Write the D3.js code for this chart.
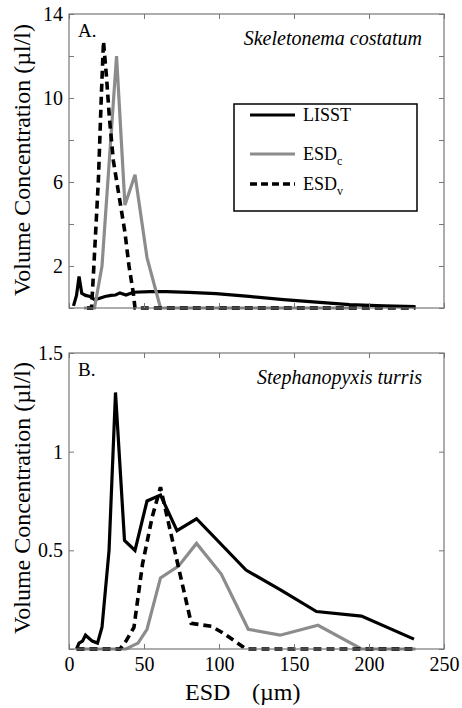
<!DOCTYPE html>
<html>
<head>
<meta charset="utf-8">
<style>
body { margin: 0; background: #fff; }
.frame { fill: none; stroke: #777; stroke-width: 1.2; }
.axis path { display: none; }
.axis line { stroke: #777; }
</style>
</head>
<body>
<div id="chart"></div>
<script src="https://cdn.jsdelivr.net/npm/d3@7"></script>
<script>
// ESD (um) vs volume concentration (ul/l)
var xTicks = [0, 50, 100, 150, 200, 250];

var aTicks = [0, 2, 4, 6, 8, 10, 12, 14];
var aLabels = [2, 6, 10, 14];
var aLisst = [[3, 0.1], [5, 0.6], [6.7, 1.5], [8.5, 0.7], [11, 0.6], [14, 0.55], [17, 0.4], [20, 0.45],
    [24, 0.55], [28, 0.6], [31, 0.62], [34, 0.72], [38, 0.62], [43, 0.75], [54, 0.78], [65, 0.78],
    [80, 0.74], [98, 0.68], [120, 0.55], [143, 0.4], [165, 0.28], [187, 0.16], [210, 0.1], [231, 0.07]];
var aEsdc = [[10, 0], [17, 0], [22, 2], [31.7, 12], [37.3, 4.9], [44, 6.35], [52, 2.4], [61, 0], [192, 0]];
var aEsdv = [[12, 0], [15, 0], [16.2, 1.5], [19.6, 6.1], [21.5, 10], [23, 12.7], [25, 11], [27, 9],
    [29.6, 7], [33, 5.5], [37.3, 3.6], [40, 2], [42.9, 0.7], [44, 0], [231, 0]];

var bTicks = [0, 0.5, 1, 1.5];
var bLabels = [0.5, 1, 1.5];
var bLisst = [[5, 0], [6.7, 0.03], [9, 0.04], [11, 0.07], [15.5, 0.04], [19, 0.03], [22, 0.11],
    [26.7, 0.5], [31, 1.3], [37, 0.55], [44, 0.5], [52, 0.75], [61, 0.78], [72, 0.6], [85, 0.66],
    [118, 0.4], [141, 0.3], [165, 0.19], [195, 0.167], [230, 0.05]];
var bEsdc = [[5, 0], [38, 0], [46, 0.03], [52, 0.1], [61, 0.36], [73, 0.42], [85, 0.535],
    [101.5, 0.38], [119.5, 0.1], [140.7, 0.07], [166, 0.12], [195, 0], [231, 0]];
var bEsdv = [[5, 0], [34, 0], [38, 0.04], [43.3, 0.11], [49, 0.43], [55.5, 0.67], [61, 0.82],
    [66, 0.65], [74, 0.38], [81.5, 0.13], [95, 0.115], [103, 0.08], [118, 0], [231, 0]];

var W = 462, H = 708;
var left = 69, right = 444;
var serif = '"Liberation Serif", "Times New Roman", Times, serif';

var svg = d3.select('#chart').append('svg')
    .attr('width', W).attr('height', H)
    .attr('font-family', serif);

var x = d3.scaleLinear().domain([0, 250]).range([left, right]);

var styles = {
    lisst: {stroke: '#000', width: 3.2, dash: null, legendDash: null},
    esdc: {stroke: '#8c8c8c', width: 3.2, dash: null, legendDash: null},
    esdv: {stroke: '#000', width: 3.6, dash: '8,5', legendDash: '7,4'}
};

function panel(o) {
    var y = d3.scaleLinear().domain(o.domain).range([o.bottom, o.top]);
    var g = svg.append('g');
    var line = d3.line().x(d => x(d[0])).y(d => y(d[1]));

    [['lisst', o.lisst], ['esdc', o.esdc], ['esdv', o.esdv]].forEach(function (s) {
        var st = styles[s[0]];
        g.append('path').datum(s[1])
            .attr('d', line)
            .attr('fill', 'none')
            .attr('stroke', st.stroke)
            .attr('stroke-width', st.width)
            .attr('stroke-dasharray', st.dash);
    });

    g.append('g').attr('class', 'axis')
        .attr('transform', 'translate(' + left + ',0)')
        .call(d3.axisLeft(y).tickValues(o.ticks).tickSize(-5).tickPadding(6)
            .tickFormat(d => o.labels.indexOf(d) >= 0 ? d : ''));
    g.append('g').attr('class', 'axis')
        .attr('transform', 'translate(' + right + ',0)')
        .call(d3.axisRight(y).tickValues(o.ticks).tickSize(-5).tickFormat(''));
    g.append('g').attr('class', 'axis')
        .attr('transform', 'translate(0,' + o.bottom + ')')
        .call(d3.axisBottom(x).tickValues(xTicks).tickSize(-5).tickPadding(8)
            .tickFormat(o.xlabels ? d => d : ''));
    g.append('g').attr('class', 'axis')
        .attr('transform', 'translate(0,' + o.top + ')')
        .call(d3.axisTop(x).tickValues(xTicks).tickSize(-5).tickFormat(''));

    g.selectAll('.axis').attr('font-family', serif).attr('font-size', 20);
    g.selectAll('.axis text').attr('fill', '#000');

    g.append('rect').attr('class', 'frame')
        .attr('x', left).attr('y', o.top)
        .attr('width', right - left).attr('height', o.bottom - o.top);

    g.append('text').attr('x', 78).attr('y', o.top + 23)
        .attr('font-size', 19).text(o.tag);
    g.append('text').attr('x', 422).attr('y', o.top + 31)
        .attr('text-anchor', 'end')
        .attr('font-size', 20).attr('font-style', 'italic')
        .text(o.species);

    g.append('text')
        .attr('transform', 'translate(30,' + o.titleY + ') rotate(-90)')
        .attr('text-anchor', 'middle')
        .attr('font-size', 24)
        .text('Volume Concentration (\u00b5l/l)');
    return y;
}

panel({top: 14, bottom: 308, domain: [0, 14], ticks: aTicks, labels: aLabels, titleY: 160,
    lisst: aLisst, esdc: aEsdc, esdv: aEsdv, tag: 'A.', species: 'Skeletonema costatum', xlabels: false});
panel({top: 353, bottom: 649, domain: [0, 1.5], ticks: bTicks, labels: bLabels, titleY: 498,
    lisst: bLisst, esdc: bEsdc, esdv: bEsdv, tag: 'B.', species: 'Stephanopyxis turris', xlabels: true});

// x title
var xt = svg.append('text').attr('y', 700).attr('font-size', 24);
xt.append('tspan').attr('x', 185).text('ESD');
xt.append('tspan').attr('x', 252).text('(\u00b5m)');

// legend
var lg = svg.append('g');
lg.append('rect').attr('x', 234).attr('y', 104).attr('width', 183).attr('height', 107)
    .attr('fill', '#fff').attr('stroke', '#000').attr('stroke-width', 1.5);
var legendRows = [
    {key: 'lisst', y: 115, name: 'LISST', sub: ''},
    {key: 'esdc', y: 154, name: 'ESD', sub: 'c'},
    {key: 'esdv', y: 184, name: 'ESD', sub: 'v'}
];
legendRows.forEach(function (r) {
    var st = styles[r.key];
    lg.append('line').attr('x1', 250).attr('x2', 295).attr('y1', r.y).attr('y2', r.y)
        .attr('stroke', st.stroke).attr('stroke-width', st.width)
        .attr('stroke-dasharray', st.legendDash);
    var t = lg.append('text').attr('x', 303).attr('y', r.y + 6).attr('font-size', 18);
    t.append('tspan').text(r.name);
    if (r.sub) t.append('tspan').attr('dy', 5).attr('font-size', 12).text(r.sub);
});
</script>
</body>
</html>
